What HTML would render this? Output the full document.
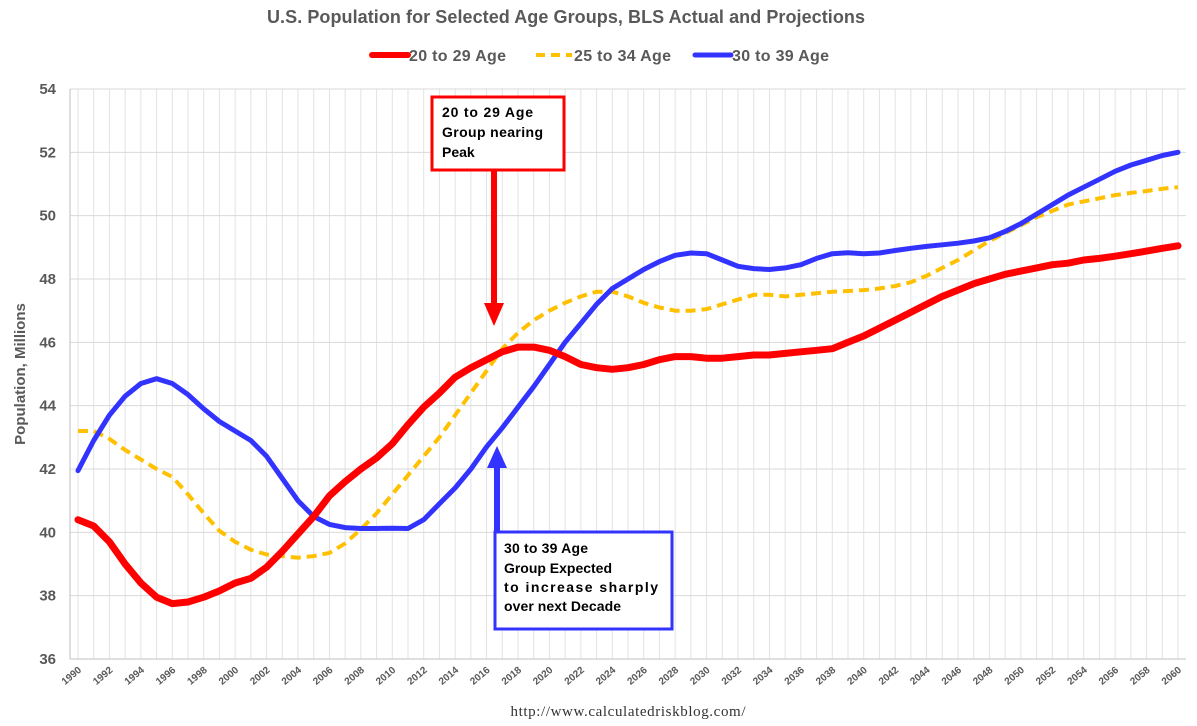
<!DOCTYPE html>
<html><head><meta charset="utf-8"><style>
body{margin:0;background:#fff;}
svg{display:block;font-family:"Liberation Sans",sans-serif;}
</style></head><body>
<svg id="chart" width="1197" height="726">
<text x="566" y="23" text-anchor="middle" font-size="18" font-weight="bold" fill="#595959" textLength="598">U.S. Population for Selected Age Groups, BLS Actual and Projections</text>
<g>
<line x1="372" y1="55" x2="408" y2="55" stroke="#ff0000" stroke-width="6" stroke-linecap="round"/>
<text x="409" y="61" font-size="16" font-weight="bold" fill="#595959" textLength="97">20 to 29 Age</text>
<line x1="536" y1="55" x2="572" y2="55" stroke="#ffc000" stroke-width="4" stroke-dasharray="9,6"/>
<text x="574" y="61" font-size="16" font-weight="bold" fill="#595959" textLength="97">25 to 34 Age</text>
<line x1="695" y1="55" x2="731" y2="55" stroke="#3333ff" stroke-width="5" stroke-linecap="round"/>
<text x="732" y="61" font-size="16" font-weight="bold" fill="#595959" textLength="97">30 to 39 Age</text>
</g>
<text transform="translate(25,374) rotate(-90)" text-anchor="middle" font-size="15" font-weight="bold" fill="#595959">Population, Millions</text>
<g id="grid"></g><g id="series"></g>
<g>
<rect x="432" y="97" width="132" height="73" fill="#fff" stroke="#ff0000" stroke-width="3"/>
<text font-size="14" font-weight="bold" fill="#000"><tspan x="442" y="117" textLength="91">20 to 29 Age</tspan><tspan x="442" y="137" textLength="101">Group nearing</tspan><tspan x="442" y="157">Peak</tspan></text>
<line x1="494" y1="171" x2="494" y2="303" stroke="#ff0000" stroke-width="6"/>
<polygon points="484,303 504,303 494,326" fill="#ff0000"/>
</g>
<g>
<rect x="495" y="532" width="177" height="97" fill="#fff" stroke="#3333ff" stroke-width="3"/>
<text font-size="14" font-weight="bold" fill="#000"><tspan x="504" y="553" textLength="84">30 to 39 Age</tspan><tspan x="504" y="573" textLength="108">Group Expected</tspan><tspan x="504" y="592" textLength="154">to increase sharply</tspan><tspan x="504" y="611" textLength="117">over next Decade</tspan></text>
<line x1="497" y1="531" x2="497" y2="468" stroke="#3333ff" stroke-width="6"/>
<polygon points="487,468 507,468 497,446" fill="#3333ff"/>
</g>
<text x="628" y="716" text-anchor="middle" font-size="15" font-family="Liberation Serif,serif" fill="#333" textLength="235">http://www.calculatedriskblog.com/</text>
</svg>
<script>
const years=[];for(let y=1990;y<=2060;y++)years.push(y);
const yTicks=[36,38,40,42,44,46,48,50,52,54];
const red=[40.4,40.2,39.7,39.0,38.4,37.95,37.75,37.8,37.95,38.15,38.4,38.55,38.9,39.4,39.95,40.5,41.15,41.6,42.0,42.35,42.8,43.4,43.95,44.4,44.9,45.2,45.45,45.7,45.85,45.85,45.75,45.55,45.3,45.2,45.15,45.2,45.3,45.45,45.55,45.55,45.5,45.5,45.55,45.6,45.6,45.65,45.7,45.75,45.8,46.0,46.2,46.45,46.7,46.95,47.2,47.45,47.65,47.85,48.0,48.15,48.25,48.35,48.45,48.5,48.6,48.65,48.72,48.8,48.88,48.97,49.05];
const yellow=[43.2,43.2,42.95,42.6,42.3,42.0,41.75,41.2,40.6,40.05,39.7,39.45,39.3,39.25,39.2,39.25,39.35,39.65,40.1,40.6,41.2,41.8,42.4,43.0,43.7,44.4,45.1,45.8,46.3,46.7,47.0,47.25,47.45,47.6,47.6,47.45,47.25,47.1,47.0,47.0,47.05,47.2,47.35,47.5,47.5,47.45,47.5,47.55,47.6,47.62,47.65,47.7,47.78,47.9,48.1,48.35,48.6,48.9,49.2,49.45,49.7,49.95,50.15,50.35,50.45,50.55,50.65,50.72,50.78,50.85,50.9];
const blue=[41.95,42.9,43.7,44.3,44.7,44.85,44.7,44.35,43.9,43.5,43.2,42.9,42.4,41.7,41.0,40.5,40.25,40.15,40.12,40.12,40.13,40.12,40.4,40.9,41.4,42.0,42.7,43.3,43.95,44.6,45.3,46.0,46.6,47.2,47.7,48.0,48.3,48.55,48.75,48.82,48.8,48.6,48.4,48.33,48.3,48.35,48.45,48.65,48.8,48.83,48.8,48.82,48.9,48.97,49.03,49.08,49.13,49.2,49.3,49.5,49.75,50.05,50.35,50.65,50.9,51.15,51.4,51.6,51.75,51.9,52.0];
const NS='http://www.w3.org/2000/svg';
const X0=70,X1=1186,Y0=659,Y1=89;
const xs=yr=>78+(yr-1990)*(1178-78)/70;
const ys=v=>Y0-(v-36)*(Y0-Y1)/18;
const grid=document.getElementById('grid'),ser=document.getElementById('series');
function mk(tag,attrs,parent){const e=document.createElementNS(NS,tag);for(const k in attrs)e.setAttribute(k,attrs[k]);parent.appendChild(e);return e;}
years.forEach(yr=>{
 const l=mk('line',{x1:xs(yr),x2:xs(yr),y1:Y1,y2:Y0,stroke:'#e3e3e3','stroke-width':1},grid);
 
 
 if(yr%2===0){
  const t=mk('text',{transform:`translate(${xs(yr)+4},${Y0+12}) rotate(-40)`,'text-anchor':'end','font-size':10,'font-weight':'bold',fill:'#595959'},grid);
  t.textContent=yr;
  
  
 }
});
yTicks.forEach(v=>{
 const l=mk('line',{x1:X0,x2:X1,y1:ys(v),y2:ys(v),stroke:'#d9d9d9','stroke-width':1},grid);
 
 
 const t=mk('text',{x:56,y:ys(v)+5,'text-anchor':'end','font-size':15,'font-weight':'bold',fill:'#595959'},grid);
 t.textContent=v;
 
 
});
const ax=mk('line',{x1:X0,x2:X1,y1:Y0,y2:Y0,stroke:'#bfbfbf'},grid);


const ay=mk('line',{x1:X0,x2:X0,y1:Y1,y2:Y0,stroke:'#bfbfbf'},grid);


function path(vals,color,w,dash,name){
 const d=vals.map((v,i)=>(i?'L':'M')+xs(years[i]).toFixed(1)+','+ys(v).toFixed(1)).join('');
 const p=mk('path',{d,fill:'none',stroke:color,'stroke-width':w,'stroke-linejoin':'round','stroke-linecap':dash?'butt':'round'},ser);
 if(dash)p.setAttribute('stroke-dasharray',dash);
 
 
}
path(yellow,'#ffc000',4,'10,6','line-25-34');
path(blue,'#3333ff',5,null,'line-30-39');
path(red,'#ff0000',7,null,'line-20-29');
</script>
</body></html>
